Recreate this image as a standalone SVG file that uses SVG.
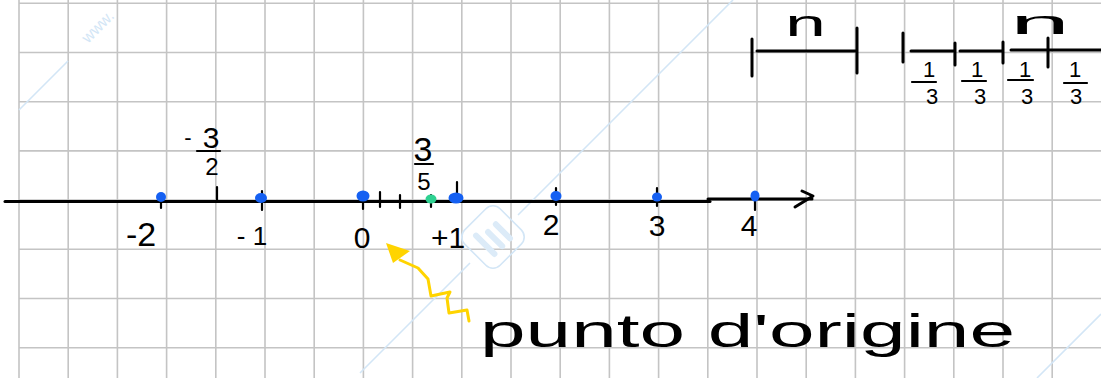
<svg xmlns="http://www.w3.org/2000/svg" width="1101" height="378" viewBox="0 0 1101 378">
<defs>
<style>
.grid{stroke:#c4c4c4;stroke-width:1.6;fill:none}
.wm{stroke:#d3e6f6;stroke-width:1.6;fill:none}
.ink{stroke:#000;stroke-width:3;fill:none;stroke-linecap:round;stroke-linejoin:round}
.thin{stroke:#000;stroke-width:2.2;fill:none;stroke-linecap:round}
.num{font-family:"Liberation Sans","DejaVu Sans",sans-serif;fill:#000}
.dot{fill:#1560f2}
</style>
</defs>
<rect width="1101" height="378" fill="#fff"/>
<g id="grid" class="grid">
<path d="M19,3.3H1101M19,52.5H1101M19,101.7H1101M19,150.9H1101M19,200.1H1101M19,249.3H1101M19,298.5H1101M19,347.7H1101"/>
<path d="M19,0V378M68.2,0V378M117.4,0V378M166.6,0V378M215.8,0V378M265,0V378M314.2,0V378M363.4,0V378M412.6,0V378M461.8,0V378M511,0V378M560.2,0V378M609.4,0V378M658.6,0V378M707.8,0V378M757,0V378M806.2,0V378M855.4,0V378M904.6,0V378M953.8,0V378M1003,0V378M1052.2,0V378"/>
</g>
<g id="watermark">
<path class="wm" d="M19,110L68,61M360,373L470,263M518,215L733,0M1037,378L1101,314"/>
<text x="88" y="44" transform="rotate(-45 88 44)" font-family="'Liberation Sans',sans-serif" font-size="16" fill="#d3e6f6">www.</text>
<g transform="rotate(-45 493 237)">
<rect x="468" y="212" width="50" height="50" rx="10" class="wm" stroke-width="3"/>
<path d="M482,224V250M493,230V250M504,230V250" stroke="#dcebf8" stroke-width="6" stroke-linecap="round" fill="none"/>
</g>
</g>
<g id="number-line">
<path class="ink" d="M5,201.5H710"/>
<path class="ink" d="M708,199H812" stroke-width="2.6"/>
<path class="ink" d="M802,191L813,196L795,207" stroke-width="2.6"/>
<path class="thin" d="M161,194V208M262,191V210M363,193V209M380,192V207M400,195V208M431,195V207M457,182V201M556,188V205M657,188V206M755,199V210M217,187V200"/>
</g>
<g id="points">
<ellipse class="dot" cx="161" cy="197" rx="5" ry="5"/>
<ellipse class="dot" cx="261" cy="198" rx="6" ry="5"/>
<ellipse class="dot" cx="363" cy="196" rx="6.5" ry="5.5"/>
<ellipse class="dot" cx="456" cy="198" rx="7.5" ry="5.5"/>
<ellipse class="dot" cx="556" cy="196" rx="5.5" ry="5"/>
<ellipse class="dot" cx="657" cy="197" rx="5" ry="4.5"/>
<ellipse class="dot" cx="755" cy="196" rx="4.5" ry="5.5"/>
<ellipse cx="431" cy="199" rx="5.5" ry="4.5" fill="#2ed191"/>
</g>
<g id="labels" class="num">
<text x="141" y="246" font-size="34" text-anchor="middle">-2</text>
<text x="252" y="245" font-size="26" text-anchor="middle">- 1</text>
<text x="362" y="248" font-size="30" text-anchor="middle">0</text>
<text x="448" y="248" font-size="30" text-anchor="middle">+1</text>
<text x="551" y="235" font-size="30" text-anchor="middle">2</text>
<text x="657" y="236" font-size="30" text-anchor="middle">3</text>
<text x="749" y="236" font-size="30" text-anchor="middle">4</text>
</g>
<g id="fraction-minus-3-2" class="num">
<text x="188" y="145" font-size="22" text-anchor="middle">-</text>
<text x="211" y="148" font-size="30" text-anchor="middle">3</text>
<path class="thin" d="M197,151H220"/>
<text x="212" y="175" font-size="24" text-anchor="middle">2</text>
</g>
<g id="fraction-3-5" class="num">
<text x="423" y="161" font-size="34" text-anchor="middle">3</text>
<path class="thin" d="M415,164H433"/>
<text x="424" y="190" font-size="24" text-anchor="middle">5</text>
</g>
<g id="unit-segment">
<path class="ink" d="M752,39V76M757,51H857M857,28V73"/>
<text class="num" x="785" y="36" font-size="36" textLength="41" lengthAdjust="spacingAndGlyphs">n</text>
</g>
<g id="thirds-segment">
<path class="ink" d="M903,33V62M911,51H955M955,43V65M960,51H1003M1003,42V63M1011,50H1101M1048,38V67"/>
<text class="num" x="1010" y="34" font-size="34" textLength="60" lengthAdjust="spacingAndGlyphs">n</text>
<g class="num" font-size="22" text-anchor="middle">
<text x="929" y="77">1</text><text x="977" y="77">1</text><text x="1025" y="77">1</text><text x="1075" y="77">1</text>
<text x="932" y="104">3</text><text x="980" y="104">3</text><text x="1027" y="104">3</text><text x="1076" y="104">3</text>
</g>
<path class="thin" d="M912,82H936M962,81H986M1008,80H1033M1064,83H1087"/>
</g>
<g id="origin-arrow">
<path d="M469,321L467,310L449,313L447,298L450,292L431,296L428,279L418,268L400,260" fill="none" stroke="#ffd400" stroke-width="3" stroke-linecap="round" stroke-linejoin="round"/>
<path d="M386,243L410,251L393,263Z" fill="#ffd400"/>
</g>
<g id="origin-label">
<text x="480" y="347" font-family="'Liberation Sans','DejaVu Sans',sans-serif" font-size="46" textLength="535" lengthAdjust="spacingAndGlyphs">punto d'origine</text>
</g>
</svg>
